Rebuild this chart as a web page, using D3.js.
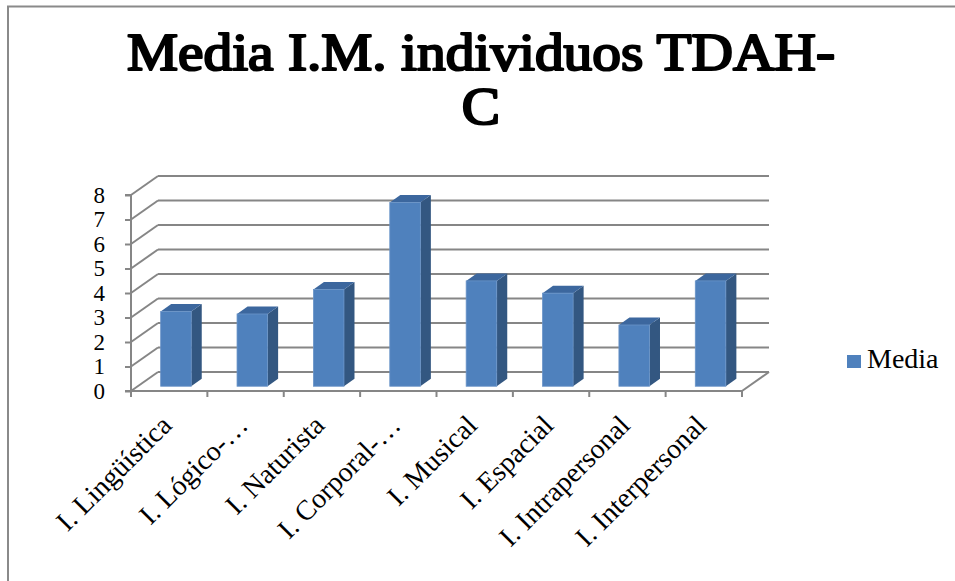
<!DOCTYPE html>
<html>
<head>
<meta charset="utf-8">
<script src="https://cdn.jsdelivr.net/npm/d3@7"></script>
<style>
  body { margin: 0; background: #fff; }
  text { font-family: "Liberation Serif", "Times New Roman", serif; fill: #000; }
</style>
</head>
<body>
<svg id="chart"></svg>
<script>
// Datos
const categorias = ["I. Lingüística", "I. Lógico-…", "I. Naturista", "I. Corporal-…",
                    "I. Musical", "I. Espacial", "I. Intrapersonal", "I. Interpersonal"];
const media = [3.05, 2.95, 3.95, 7.5, 4.3, 3.8, 2.5, 4.3];
const ticksY = [0, 1, 2, 3, 4, 5, 6, 7, 8];
const titulo = ["Media I.M. individuos TDAH-", "C"];
const serie = "Media";

const width = 955, height = 581;
const svg = d3.select("#chart").attr("width", width).attr("height", height);

// borde del área del gráfico
svg.append("path")
    .attr("d", `M8,${height} V6.5 H${width}`)
    .attr("fill", "none")
    .attr("stroke", "#8a8a8a")
    .attr("stroke-width", 2);

// Título: no hay serif negrita instalada, se engrosa con trazo
const t = svg.append("g")
    .attr("text-anchor", "middle")
    .style("font-family", "'Liberation Serif', serif")
    .style("font-weight", "400")
    .style("font-size", "52px")
    .attr("stroke", "#000")
    .attr("stroke-width", 2.2)
    .attr("stroke-linejoin", "round");
const lineas = t.selectAll("text").data(titulo).enter().append("text")
    .attr("x", 481)
    .attr("y", (d, i) => 70 + i * 54)
    .text(d => d);
// ensanchar la primera línea al ancho del original
const w0 = lineas.node().getComputedTextLength();
lineas.filter((d, i) => i === 0)
    .attr("textLength", 708)
    .attr("lengthAdjust", "spacingAndGlyphs");
const esc = 708 / w0;
lineas.filter((d, i) => i === 1)
    .attr("transform", `translate(481,0) scale(${esc},1) translate(-481,0)`);

// Escalas
const x = d3.scaleBand()
    .domain(categorias)
    .range([131, 742])
    .paddingInner(0.6)
    .paddingOuter(0.3);

const y = d3.scaleLinear()
    .domain([0, 8])
    .range([391, 195]);

const DX = 27, DY = -19;     // profundidad 3D
const f0 = 0.25, f1 = 0.64;  // posición de las barras en la profundidad
const grid = "#868686";

const g = svg.append("g");

// pared del fondo
g.selectAll(".back").data(ticksY).enter().append("line")
    .attr("x1", x.range()[0] + DX).attr("x2", x.range()[1] + DX)
    .attr("y1", d => y(d) + DY).attr("y2", d => y(d) + DY)
    .attr("stroke", grid).attr("stroke-width", 2);

// pared lateral
g.selectAll(".side").data(ticksY).enter().append("line")
    .attr("x1", x.range()[0]).attr("x2", x.range()[0] + DX)
    .attr("y1", d => y(d)).attr("y2", d => y(d) + DY)
    .attr("stroke", grid).attr("stroke-width", 2);

// suelo
g.append("line")
    .attr("x1", x.range()[1]).attr("x2", x.range()[1] + DX)
    .attr("y1", y(0)).attr("y2", y(0) + DY)
    .attr("stroke", grid).attr("stroke-width", 2);

// Eje Y
const ejeY = svg.append("g")
    .attr("transform", `translate(${x.range()[0]},0)`)
    .call(d3.axisLeft(y).tickValues(ticksY).tickSize(6).tickPadding(20).tickFormat(d3.format("d")));
ejeY.attr("font-family", null);
ejeY.select(".domain").attr("stroke", grid).attr("stroke-width", 2).attr("d", `M-6,${y(8)}H0V${y(0)}H-6`);
ejeY.selectAll(".tick line").attr("stroke", grid).attr("stroke-width", 2);
ejeY.selectAll(".tick text")
    .style("font-size", "23px")
    .style("font-family", "'Liberation Serif', serif")
    .attr("fill", "#000");

// Eje X (línea frontal y marcas)
g.append("line")
    .attr("x1", x.range()[0]).attr("x2", x.range()[1])
    .attr("y1", y(0)).attr("y2", y(0))
    .attr("stroke", grid).attr("stroke-width", 2);
const bordes = d3.range(categorias.length + 1).map(i => x.range()[0] + i * x.step());
g.selectAll(".tickx").data(bordes).enter().append("line")
    .attr("x1", d => d).attr("x2", d => d)
    .attr("y1", y(0)).attr("y2", y(0) + 6)
    .attr("stroke", grid).attr("stroke-width", 2);

// Barras 3D
const bw = x.bandwidth();
const barras = svg.selectAll(".bar").data(categorias.map((c, i) => ({ c, v: media[i] })))
    .enter().append("g");

barras.each(function(d) {
    const b = d3.select(this);
    const xl = x(d.c) + f0 * DX, xr = xl + bw;
    const yt = y(d.v) + f0 * DY, yb = y(0) + f0 * DY;
    const ddx = (f1 - f0) * DX, ddy = (f1 - f0) * DY;
    // lado
    b.append("path")
        .attr("d", `M${xr},${yt} L${xr + ddx},${yt + ddy} L${xr + ddx},${yb + ddy} L${xr},${yb} Z`)
        .attr("fill", "#335781");
    // tapa
    b.append("path")
        .attr("d", `M${xl},${yt} L${xl + ddx},${yt + ddy} L${xr + ddx},${yt + ddy} L${xr},${yt} Z`)
        .attr("fill", "#3c679e");
    // frente
    b.append("rect")
        .attr("x", xl).attr("y", yt)
        .attr("width", bw).attr("height", yb - yt)
        .attr("fill", "#4f81bd")
        .attr("stroke", "#6a94c8").attr("stroke-width", 0.8);
});

// Etiquetas de categorías
svg.selectAll(".cat").data(categorias).enter().append("text")
    .attr("text-anchor", "end")
    .attr("transform", d => `translate(${x(d) + bw / 2 + 4},427) rotate(-45)`)
    .style("font-size", "28px")
    .text(d => d);

// Leyenda
const leyenda = svg.append("g").attr("transform", "translate(847,355)");
leyenda.append("rect").attr("width", 14).attr("height", 13).attr("fill", "#4f81bd");
leyenda.append("text").attr("x", 20).attr("y", 13).style("font-size", "28px").text(serie);
</script>
</body>
</html>
